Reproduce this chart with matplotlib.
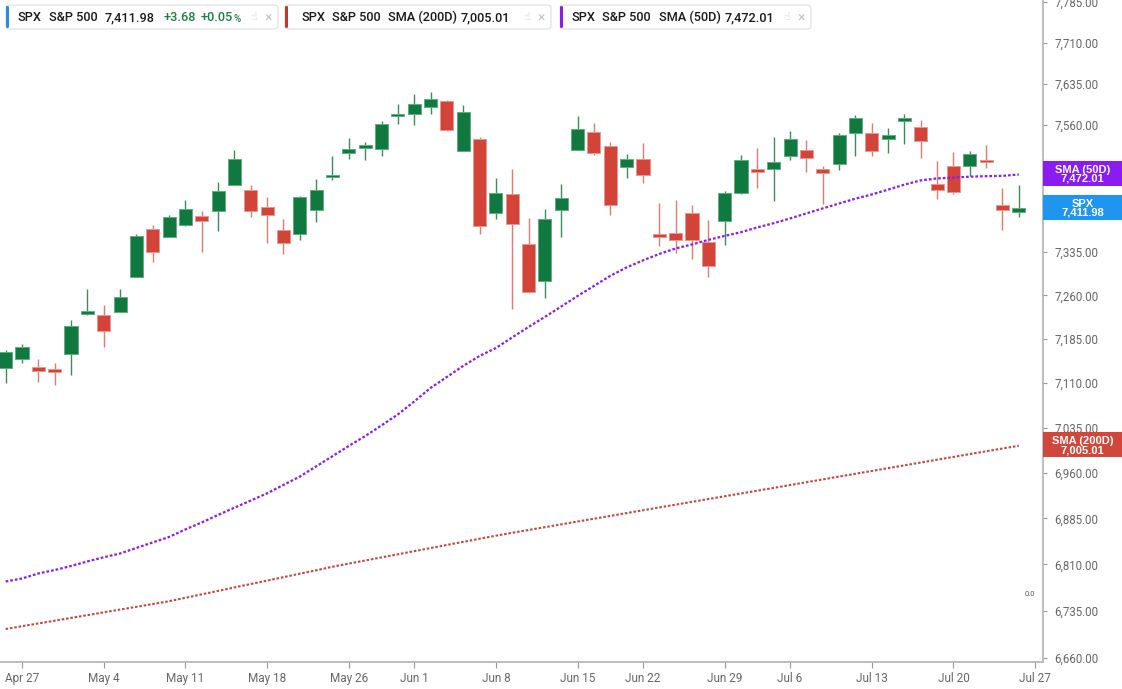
import numpy as np
import pandas as pd
import matplotlib
matplotlib.use('Agg')
import matplotlib.pyplot as plt
from matplotlib.patches import Rectangle, FancyBboxPatch
from matplotlib.ticker import FixedLocator, FuncFormatter, NullLocator

plt.rcParams['font.family'] = ['Roboto', 'DejaVu Sans']

# trading days on screen: Apr 24 .. Jul 27 2026, exchange holidays dropped
holidays = ['2026-05-25', '2026-06-19', '2026-07-03']
days = pd.bdate_range('2026-04-24', '2026-07-27')
days = days[~days.isin(pd.to_datetime(holidays))]

# daily OHLC (Apr 24 .. Jul 24)
opens = [7135.9, 7150.6, 7137.1, 7134.7, 7160.3, 7228.2, 7227.0, 7231.6, 7292.1, 7375.3,
         7361.2, 7383.4, 7399.4, 7407.5, 7452.9, 7444.0, 7414.0, 7374.1, 7367.0, 7408.7,
         7467.1, 7510.3, 7518.7, 7517.4, 7578.0, 7580.4, 7593.5, 7603.8, 7514.3, 7536.0,
         7403.3, 7437.4, 7349.0, 7285.7, 7408.7, 7515.1, 7547.5, 7522.7, 7485.4, 7499.1,
         7365.3, 7369.4, 7403.4, 7352.5, 7390.4, 7439.2, 7481.9, 7481.4, 7505.0, 7515.1,
         7481.4, 7490.0, 7545.7, 7546.2, 7534.9, 7569.8, 7557.6, 7455.8, 7487.2, 7487.7,
         7497.2, 7418.0, 7406.0]
highs = [7166.4, 7176.7, 7151.1, 7144.4, 7218.0, 7270.8, 7243.1, 7270.8, 7366.6, 7382.9,
         7399.9, 7426.8, 7407.5, 7458.8, 7515.6, 7452.9, 7432.1, 7393.4, 7433.3, 7464.1,
         7504.4, 7537.2, 7529.6, 7567.3, 7597.9, 7616.4, 7619.5, 7605.0, 7596.6, 7539.6,
         7465.3, 7481.3, 7395.7, 7410.9, 7454.8, 7577.3, 7563.7, 7529.8, 7509.0, 7528.0,
         7422.1, 7426.8, 7417.5, 7391.7, 7443.3, 7506.7, 7519.7, 7539.6, 7549.8, 7534.1,
         7487.2, 7545.7, 7579.3, 7563.7, 7555.8, 7580.4, 7569.8, 7496.5, 7512.0, 7513.8,
         7524.6, 7448.3, 7453.4]
lows = [7110.9, 7144.4, 7112.6, 7107.5, 7124.5, 7227.0, 7172.1, 7231.6, 7292.1, 7318.7,
        7361.2, 7381.7, 7336.0, 7372.8, 7452.9, 7396.3, 7351.8, 7332.1, 7356.0, 7387.4,
        7461.8, 7499.6, 7497.8, 7505.5, 7561.9, 7561.1, 7580.9, 7549.8, 7514.3, 7366.5,
        7394.0, 7236.2, 7263.8, 7255.7, 7361.2, 7515.1, 7507.2, 7400.4, 7466.6, 7457.2,
        7346.0, 7334.3, 7322.9, 7292.6, 7347.3, 7436.9, 7448.1, 7425.6, 7498.4, 7477.2,
        7419.8, 7479.6, 7505.5, 7504.4, 7510.8, 7525.9, 7501.9, 7428.6, 7437.9, 7469.4,
        7484.2, 7374.1, 7396.4]
closes = [7163.5, 7172.1, 7131.3, 7129.1, 7207.6, 7233.3, 7198.5, 7257.4, 7363.6, 7335.0,
          7397.5, 7411.5, 7388.9, 7442.8, 7499.6, 7406.9, 7401.0, 7351.8, 7431.6, 7444.6,
          7471.2, 7516.9, 7524.2, 7562.4, 7579.1, 7598.4, 7607.9, 7551.6, 7583.7, 7381.7,
          7439.2, 7384.7, 7265.6, 7392.9, 7429.8, 7552.9, 7509.7, 7418.0, 7499.1, 7470.7,
          7363.6, 7356.6, 7356.6, 7311.2, 7438.7, 7497.8, 7477.2, 7493.8, 7535.4, 7501.9,
          7475.4, 7542.1, 7573.9, 7513.3, 7542.1, 7571.6, 7531.8, 7445.1, 7440.4, 7508.0,
          7494.7, 7408.3, 7411.98]

sma50 = [6782.4, 6787.2, 6795.3, 6800.9, 6807.4, 6814.8, 6821.6, 6827.7, 6836.7, 6845.7,
         6854.6, 6866.9, 6878.3, 6890.6, 6902.5, 6914.3, 6926.2, 6940.0, 6953.8, 6970.7,
         6987.6, 7004.7, 7021.1, 7039.0, 7057.4, 7079.1, 7101.9, 7120.6, 7139.3, 7156.2,
         7169.8, 7187.9, 7205.9, 7223.0, 7241.0, 7259.1, 7276.5, 7293.9, 7308.6, 7320.8,
         7332.1, 7341.6, 7348.7, 7356.6, 7363.6, 7370.1, 7378.5, 7385.9, 7394.3, 7403.1,
         7411.9, 7420.6, 7429.1, 7436.6, 7445.1, 7454.0, 7461.5, 7465.0, 7466.3, 7468.1,
         7469.0, 7469.5, 7472.01]
sma200 = [6706.1, 6710.6, 6715.0, 6719.4, 6723.9, 6728.3, 6732.8, 6737.2, 6741.6, 6746.1,
          6750.6, 6756.1, 6761.7, 6767.2, 6772.8, 6778.3, 6783.8, 6789.4, 6794.9, 6800.5,
          6806.2, 6811.3, 6816.3, 6821.4, 6826.4, 6831.5, 6836.5, 6841.6, 6846.6, 6851.7,
          6856.7, 6861.4, 6866.0, 6870.6, 6875.2, 6879.8, 6884.4, 6889.0, 6893.7, 6898.3,
          6902.9, 6907.5, 6912.1, 6916.7, 6921.3, 6925.9, 6930.5, 6935.1, 6939.8, 6944.4,
          6949.1, 6953.8, 6958.4, 6963.1, 6967.8, 6972.4, 6977.1, 6981.8, 6986.4, 6991.1,
          6995.7, 7000.4, 7005.01]

tick_dates = ['2026-04-27', '2026-05-04', '2026-05-11', '2026-05-18', '2026-05-26',
              '2026-06-01', '2026-06-08', '2026-06-15', '2026-06-22', '2026-06-29',
              '2026-07-06', '2026-07-13', '2026-07-20', '2026-07-27']
tick_labels = ['Apr 27', 'May 4', 'May 11', 'May 18', 'May 26', 'Jun 1', 'Jun 8',
               'Jun 15', 'Jun 22', 'Jun 29', 'Jul 6', 'Jul 13', 'Jul 20', 'Jul 27']
y_ticks = [6660, 6735, 6810, 6885, 6960, 7035, 7110, 7185, 7260, 7335, 7410, 7485,
           7560, 7635, 7710, 7785]

last_price = 7411.98
change = 3.68
change_pct = 0.05

GREEN = '#10793f'
GREEN_EDGE = '#62ad80'
GREEN_WICK = '#3d8c60'
RED = '#d24338'
RED_EDGE = '#ec968f'
RED_WICK = '#dd7b74'
PURPLE = '#8a1cf2'
SMA200_C = '#c4463d'
BLUE = '#1e96f0'

W, H = 1122, 689
fig = plt.figure(figsize=(W / 100, H / 100), dpi=100)
fig.patch.set_facecolor('white')
ax = fig.add_axes([0, 27 / H, 1043 / W, 662 / H])

o = np.array(opens); h = np.array(highs); l = np.array(lows); c = np.array(closes)
x = np.arange(len(o))
up = c >= o
body_h = np.maximum(np.abs(c - o), c * 0.0006)
body_lo = (o + c) / 2 - body_h / 2

ax.vlines(x[up], l[up], h[up], color=GREEN_WICK, lw=1.0, zorder=2)
ax.vlines(x[~up], l[~up], h[~up], color=RED_WICK, lw=1.0, zorder=2)
ax.bar(x[up], body_h[up], 0.8, bottom=body_lo[up], color=GREEN,
       edgecolor=GREEN_EDGE, lw=0.7, zorder=3)
ax.bar(x[~up], body_h[~up], 0.8, bottom=body_lo[~up], color=RED,
       edgecolor=RED_EDGE, lw=0.7, zorder=3)

ax.plot(x, sma50, color=PURPLE, lw=1.6, ls=(0, (1.2, 0.9)), zorder=4)
ax.plot(x, sma200, color=SMA200_C, lw=1.5, ls=(0, (1.2, 0.9)), zorder=4)

ax.set_yscale('log')
ax.set_ylim(6653.7, 7788.7)
ax.set_xlim(-0.346, 63.48)
ax.yaxis.tick_right()
ax.yaxis.set_major_locator(FixedLocator(y_ticks))
ax.yaxis.set_minor_locator(NullLocator())

# price tags on the axis cover the tick labels that sit right under them
tag_values = [sma50[-1], last_price, sma200[-1]]


def fmt_price(v, _):
    if any(abs(np.log(v / t)) < 0.0032 for t in tag_values):
        return ''
    return f'{v:,.2f}'


ax.yaxis.set_major_formatter(FuncFormatter(fmt_price))
ax.tick_params(axis='y', which='minor', length=0)

tick_pos = [days.get_loc(pd.Timestamp(d)) for d in tick_dates]
ax.set_xticks(tick_pos)
ax.set_xticklabels(tick_labels)

ax.tick_params(axis='y', length=3, width=0.8, color='#999999', labelsize=8.3,
               labelcolor='#666666', pad=5)
ax.tick_params(axis='x', length=4, width=0.8, color='#999999', labelsize=8.5,
               labelcolor='#666666', pad=3)
for s in ['top', 'left']:
    ax.spines[s].set_visible(False)
for s in ['right', 'bottom']:
    ax.spines[s].set_color('#b8b8b8')
    ax.spines[s].set_linewidth(1.3)

# stray volume-axis label left of the price axis
fig.text(1030 / W, 1 - 594 / H, '0.0', fontsize=5.5, color='#555555',
         ha='center', va='center')


def price_tag(val, line1, color):
    yd = ax.transData.transform((0, val))[1]
    x0 = 1043
    w = W - x0
    hh = 25
    fig.patches.append(Rectangle((x0 / W, (yd + 1 - hh / 2) / H), w / W, hh / H,
                                 transform=fig.transFigure, facecolor=color,
                                 edgecolor='none', zorder=5))
    fig.text((x0 + w / 2) / W, yd / H, f'{line1}\n{val:,.2f}', color='white',
             fontsize=8, fontweight='bold', ha='center', va='center',
             family=['Liberation Sans'], linespacing=0.88, zorder=6)


price_tag(sma50[-1], 'SMA (50D)', PURPLE)
price_tag(last_price, 'SPX', BLUE)
price_tag(sma200[-1], 'SMA (200D)', '#d1473c')

renderer = fig.canvas.get_renderer()


# header chips
def chip(x0, x1, color, items):
    y0, y1 = 5, 29
    fig.patches.append(FancyBboxPatch((x0 / W, 1 - y1 / H), (x1 - x0) / W, (y1 - y0) / H,
                                      boxstyle='round,pad=0,rounding_size=0.004',
                                      transform=fig.transFigure, facecolor='white',
                                      edgecolor='#dedede', lw=0.8, zorder=5))
    fig.patches.append(FancyBboxPatch((x0 / W, 1 - (y1 - 1) / H), 3 / W, (y1 - y0 - 2) / H,
                                      boxstyle='round,pad=0,rounding_size=0.0015',
                                      transform=fig.transFigure, facecolor=color,
                                      edgecolor='none', zorder=6))
    yc = 1 - 17.5 / H
    last = None
    for xt, txt, col in items:
        last = fig.text(xt / W, yc, txt, fontsize=9.2, color=col, fontweight='medium',
                        ha='left', va='center', zorder=7)
    fig.text((x1 - 24) / W, yc, '\u261d', fontsize=8, color='#cfcfcf', ha='center',
             va='center', family=['DejaVu Sans'], zorder=7)
    fig.text((x1 - 10) / W, yc, '\u00d7', fontsize=10, color='#c4c4c4', ha='center',
             va='center', zorder=7)
    return last


TXT = '#1a1a1a'
CHG = '#1b7f46'
pct = chip(6, 278, '#1e90e8', [(17, 'SPX', TXT), (49, 'S&P 500', TXT),
                               (105, f'{last_price:,.2f}', TXT),
                               (164, f'+{change:.2f}', CHG), (201, f'+{change_pct:.2f}', CHG)])
ext = pct.get_window_extent(renderer)
fig.text((ext.x1 + 0.5) / W, 1 - 18.5 / H, '%', fontsize=7, color=CHG,
         fontweight='medium', ha='left', va='center', zorder=7)
chip(285, 551, '#c0392b', [(301, 'SPX', TXT), (332, 'S&P 500', TXT),
                           (388, 'SMA (200D)', TXT), (461, f'{sma200[-1]:,.2f}', TXT)])
chip(560, 811, PURPLE, [(571, 'SPX', TXT), (602, 'S&P 500', TXT),
                        (659, 'SMA (50D)', TXT), (725, f'{sma50[-1]:,.2f}', TXT)])

fig.savefig('out.png', dpi=100, facecolor='white')
